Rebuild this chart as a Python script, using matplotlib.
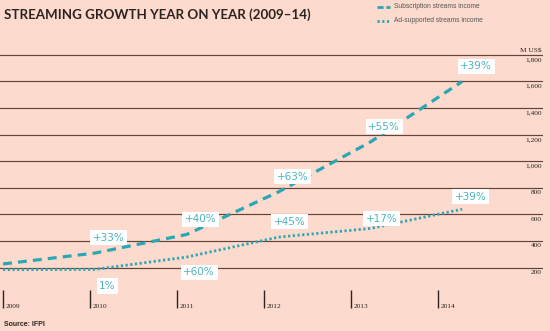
import matplotlib.pyplot as plt
import matplotlib.transforms as mtransforms
import numpy as np

years = ["2009", "2010", "2011", "2012", "2013", "2014"]
subscription = [228, 310, 450, 770, 1145, 1600]
ad_supported = [185, 187, 280, 430, 495, 640]
sub_growth = ["", "+33%", "+40%", "+63%", "+55%", "+39%"]
ad_growth = ["", "1%", "+60%", "+45%", "+17%", "+39%"]
y_ticks = [200, 400, 600, 800, 1000, 1200, 1400, 1600, 1800]

BG = "#fcdacd"
TEAL = "#2ba7b3"
LABEL_TEAL = "#4cb4c0"
GRID = "#634239"
TEXT = "#2e2320"

fig = plt.figure(figsize=(5.5, 3.31), dpi=100, facecolor=BG)
W, H = 550, 331
# axes in pixel box: left 0, right 543, top 40, bottom 308
ax = fig.add_axes([0 / W, 1 - 308 / H, 543 / W, (308 - 40) / H])
ax.set_facecolor(BG)
for s in ax.spines.values():
    s.set_visible(False)

x = np.arange(len(years))
ax.set_xlim(-0.033, 5.88)
ax.set_ylim(-103, 1912)

# horizontal rules with value labels hanging under them at the right edge
trans_r = mtransforms.blended_transform_factory(ax.transAxes, ax.transData)
for v in y_ticks:
    ax.axhline(v, color=GRID, lw=0.85, zorder=1)
    ax.text(0.998, v - 36, f"{v:,}", transform=trans_r, ha="right",
            va="center", fontsize=5.3, color=TEXT, family="Liberation Serif")
ax.text(0.998, 1912 - 80, "M US$", transform=trans_r, ha="right", va="center",
        fontsize=5.3, color=TEXT, family="Liberation Serif")

# year ticks sit slightly left of the data points
tick_pos = x * 0.948
ax.set_yticks([])
ax.set_xticks(tick_pos)
ax.set_xticklabels([])
ax.tick_params(axis="x", direction="in", length=13, width=1.0, color=TEXT)
trans_b = mtransforms.blended_transform_factory(ax.transData, ax.transAxes)
for p, yr in zip(tick_pos, years):
    ax.text(p + 0.03, -0.002, yr, transform=trans_b, ha="left", va="bottom",
            fontsize=5.3, color=TEXT, family="Liberation Serif")

ax.plot(x, subscription, color=TEAL, lw=2.3, ls=(0, (2.8, 1.9)),
        dash_capstyle="butt", zorder=3)
ax.plot(x, ad_supported, color=TEAL, lw=2.0, ls=(0, (0.8, 0.9)),
        dash_capstyle="butt", zorder=3)

box = dict(boxstyle="square,pad=0.25", fc="white", ec="none")
for xi, v, lab in zip(x, subscription, sub_growth):
    if lab:
        ax.annotate(lab, (xi, v), xytext=(10, 11), textcoords="offset points",
                    ha="center", va="center", fontsize=7.5, color=LABEL_TEAL,
                    bbox=box, zorder=4)
ad_offsets = [None, (9, -12), (9, -11), (8, 11), (8, 7), (6, 9)]
for xi, v, lab, off in zip(x, ad_supported, ad_growth, ad_offsets):
    if lab:
        ax.annotate(lab, (xi, v), xytext=off, textcoords="offset points",
                    ha="center", va="center", fontsize=7.5, color=LABEL_TEAL,
                    bbox=box, zorder=4)

fig.text(4 / W, 1 - 15 / H, "STREAMING GROWTH YEAR ON YEAR (2009\u201314)",
         ha="left", va="center", fontsize=9.6, fontweight="bold",
         color=TEXT, family="Lato")

# legend at top right
lx0, lx1 = 377 / W, 390 / W
fig.add_artist(plt.Line2D([lx0, lx1], [1 - 7 / H] * 2, color=TEAL, lw=2.0,
                          ls=(0, (2.2, 1.0)), transform=fig.transFigure))
fig.add_artist(plt.Line2D([lx0, lx1], [1 - 21 / H] * 2, color=TEAL, lw=2.0,
                          ls=(0, (0.8, 0.9)), transform=fig.transFigure))
fig.text(394 / W, 1 - 7 / H, "Subscription streams income", ha="left",
         va="center", fontsize=4.8, color="#555555", family="Liberation Sans")
fig.text(394 / W, 1 - 21 / H, "Ad-supported streams income", ha="left",
         va="center", fontsize=4.8, color="#555555", family="Liberation Sans")

fig.text(4 / W, 1 - 324 / H, "Source: IFPI", ha="left", va="center",
         fontsize=5, fontweight="bold", color=TEXT, family="Liberation Sans")

fig.savefig("out.png", dpi=100, facecolor=BG)
